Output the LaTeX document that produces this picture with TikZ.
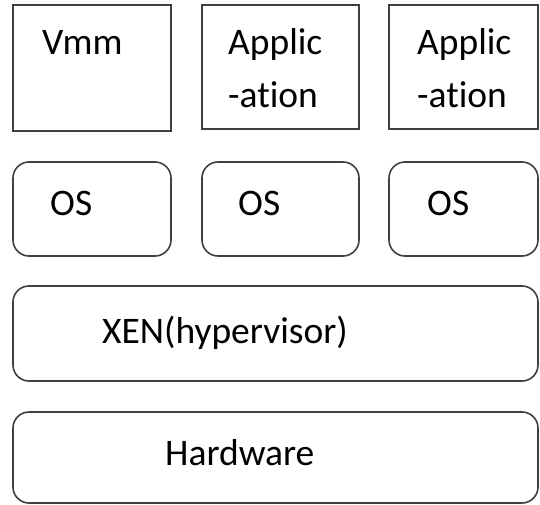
\documentclass[tikz,border=0pt]{standalone}
\usepackage{fontspec}
\setmainfont[Ligatures={NoCommon}]{Carlito}
\begin{document}
\begin{tikzpicture}[x=1pt,y=-1pt,
 box/.style={draw=black!75, line width=1.6pt, anchor=north west, inner sep=0pt, outer sep=0pt},
 rbox/.style={box, rounded corners=16pt},
 lbl/.style={anchor=base west, inner sep=0pt, font=\fontsize{37.5}{44}\selectfont}]
\useasboundingbox (0,0) rectangle (540,505);
% top row
\node[box, minimum width=158pt, minimum height=126pt] (vmm) at (13,5) {};
\node[box, minimum width=157pt, minimum height=124pt] (app1) at (202,5) {};
\node[box, minimum width=149pt, minimum height=124pt] (app2) at (389,5) {};
% OS row
\node[rbox, minimum width=158pt, minimum height=94pt] (os1) at (13,162) {};
\node[rbox, minimum width=157pt, minimum height=94pt] (os2) at (202,162) {};
\node[rbox, minimum width=149pt, minimum height=94pt] (os3) at (389,162) {};
% layers
\node[rbox, minimum width=525pt, minimum height=95pt] (xen) at (13,286) {};
\node[rbox, minimum width=525pt, minimum height=91pt] (hw) at (13,412) {};
% labels
\node[lbl] (tvmm) at (42,55) {Vmm};
\node[lbl] (ta1a) at (228,55) {Applic};
\node[lbl] (ta1b) at (228,108) {-ation};
\node[lbl] (ta2a) at (417,55) {Applic};
\node[lbl] (ta2b) at (417,108) {-ation};
\node[lbl] (tos1) at (50,215) {OS};
\node[lbl] (tos2) at (238,215) {OS};
\node[lbl] (tos3) at (427,215) {OS};
\node[lbl] (txen) at (102,343) {XEN(hypervisor)};
\node[lbl] (thw) at (165,465) {Hardware};
\end{tikzpicture}
\end{document}
